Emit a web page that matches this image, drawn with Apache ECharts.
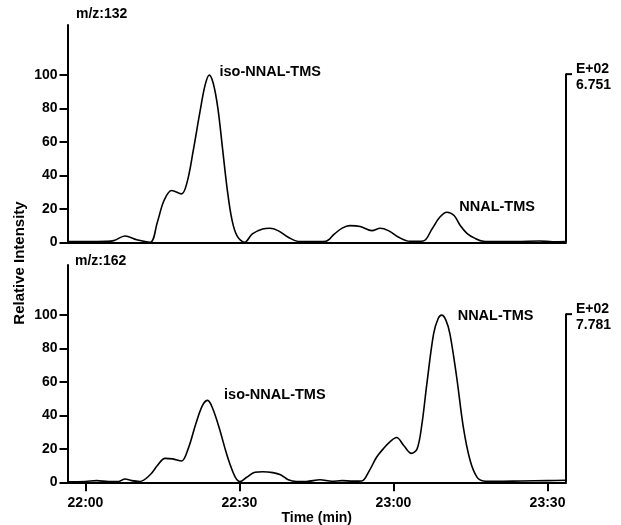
<!DOCTYPE html>
<html>
<head>
<meta charset="utf-8">
<script src="https://cdn.jsdelivr.net/npm/echarts@6/dist/echarts.min.js"></script>
<style>
  html, body { margin: 0; padding: 0; background: #fff; }
  #chart { width: 621px; height: 525px; }
</style>
</head>
<body>
<div id="chart"></div>
<script>
// Retention time in minutes after 22:00, relative intensity in %
const times132 = [-3.5, 0, 4, 5.5, 7.7, 10, 12.6, 14, 15.3, 16.8, 18.7, 19.8, 21, 22.3, 23.3, 24.1, 24.9, 25.8, 26.7, 27.6, 28.5, 29.5, 31.0, 32.5, 34.5, 35.9, 37.5, 39.5, 41.8, 44, 46.8, 48.5, 50, 51.5, 53.5, 55.8, 57.4, 59, 61, 63.2, 65.8, 67.5, 69, 70.4, 71.8, 73, 74.3, 75.8, 77.5, 80, 84, 88.5, 91, 93.6];
const intensity132 = [0.5, 0.5, 0.6, 1, 3.8, 1.5, 0, 12, 25, 31, 29, 36, 55, 78, 94, 100, 95, 80, 56, 32, 14, 4, 0, 5, 8, 8.4, 7, 3, 0.4, 0.4, 0.6, 5, 8.5, 10, 9.5, 7, 8.4, 7, 3, 0.6, 0.8, 8, 15, 18, 16, 10, 5.4, 2.5, 0.6, 0.4, 0.4, 0.8, 0.3, 0.4];

const times162 = [-3.5, 0, 2.2, 4.5, 6.5, 7.7, 9, 10.6, 12.6, 14, 15.5, 17, 18.7, 20, 21.5, 22.8, 23.8, 24.8, 26.2, 27.2, 28.1, 29.2, 30.1, 31.4, 33, 34.5, 36.5, 38, 39.5, 41.1, 43, 45.7, 48, 50, 52, 53.8, 55.3, 56.7, 58, 59.4, 60.6, 62, 63.5, 64.6, 65.5, 66.5, 67.8, 68.7, 69.4, 70.2, 71, 72.3, 73.6, 74.9, 76.2, 77.5, 80, 85, 90, 93.6];
const intensity162 = [0.3, 0.5, 1, 0.4, 0.5, 2, 1, 0.5, 4.5, 10, 14.3, 14, 12.7, 20, 35, 46, 49, 44, 31, 20, 11.3, 3, 0.5, 3, 6, 6.3, 5.8, 4.5, 1.5, 0.5, 0.5, 1.5, 0.6, 1, 0.7, 0.8, 7, 15, 20, 24.5, 26.8, 22, 17.3, 20, 34, 59, 88.7, 98, 100, 97, 88.7, 63, 33, 13.3, 3.4, 0.8, 0.6, 0.8, 1, 1.2];

const timeTicks = [0, 30, 60, 90];
const intensityTicks = [0, 20, 40, 60, 80, 100];
const timeRange = [-3.5, 93.6];
const intensityMax = 130;

const ionTitles = ['m/z:132', 'm/z:162'];
const scaleNotes = ['E+02\n6.751', 'E+02\n7.781'];
// peak labels: [time, intensity, text]
const peakLabels132 = [[26.1, 101.6, 'iso-NNAL-TMS'], [72.8, 21.2, 'NNAL-TMS']];
const peakLabels162 = [[27.0, 52.5, 'iso-NNAL-TMS'], [72.5, 99.5, 'NNAL-TMS']];

const FONT = '"Liberation Sans", Arial, Helvetica, sans-serif';

function fmtTime(m) {
  const total = 22 * 60 + m;
  const h = Math.floor(total / 60);
  const mm = Math.round(total - h * 60);
  return h + ':' + String(mm).padStart(2, '0');
}

function pairs(ts, vs) {
  return ts.map((t, i) => [t, vs[i]]);
}

const gridLeft = 67.5, gridRight = 55, gridHeight = 217.3;

function makeX(idx, bottom) {
  return {
    type: 'value', gridIndex: idx, min: timeRange[0], max: timeRange[1],
    axisLine: { show: true, onZero: false, lineStyle: { color: '#000', width: 2 } },
    axisTick: bottom ? { show: true, customValues: timeTicks, length: 9, lineStyle: { color: '#000', width: 2 } } : { show: false },
    axisLabel: bottom ? {
      show: true, customValues: timeTicks, formatter: fmtTime, margin: 14,
      color: '#000', fontFamily: FONT, fontWeight: 'bold', fontSize: 14
    } : { show: false },
    splitLine: { show: false },
    name: bottom ? 'Time (min)' : '',
    nameLocation: 'middle', nameGap: 27,
    nameTextStyle: { color: '#000', fontFamily: FONT, fontWeight: 'bold', fontSize: 14 }
  };
}

function makeY(idx) {
  return {
    type: 'value', gridIndex: idx, min: 0, max: intensityMax,
    axisLine: { show: true, onZero: false, lineStyle: { color: '#000', width: 2 } },
    axisTick: { show: true, customValues: intensityTicks, length: 8, lineStyle: { color: '#000', width: 2 } },
    axisLabel: {
      show: true, customValues: intensityTicks, margin: 10,
      color: '#000', fontFamily: FONT, fontWeight: 'bold', fontSize: 14
    },
    splitLine: { show: false }
  };
}

const textStyle = { color: '#000', fontFamily: FONT, fontWeight: 'bold' };

function makeSeries(idx, ts, vs, labels, note) {
  const xEnd = timeRange[1];
  return {
    type: 'line', xAxisIndex: idx, yAxisIndex: idx,
    data: pairs(ts, vs),
    smooth: 0.35, showSymbol: false, clip: false, silent: true,
    lineStyle: { color: '#000', width: 1.6 },
    // full-scale bracket on the right edge
    markLine: {
      silent: true, symbol: ['none', 'none'], animation: false,
      lineStyle: { color: '#000', width: 2, type: 'solid' },
      label: { show: false },
      emphasis: { disabled: true },
      data: [[{ coord: [xEnd, 0] }, { coord: [xEnd, 101] }]]
    },
    markPoint: {
      silent: true, animation: false,
      data: labels.map(l => ({
        coord: [l[0], l[1]], name: l[2], symbol: 'circle', symbolSize: 0,
        label: Object.assign({ show: true, position: 'right', distance: 0, formatter: '{b}', fontSize: 14.5 }, textStyle)
      })).concat([{
        // short flag at the top of the bracket with the full-scale note
        coord: [xEnd, 100], name: note, symbol: 'rect', symbolSize: [6, 2], symbolOffset: [3, -1],
        itemStyle: { color: '#000' },
        label: Object.assign({ show: true, position: 'right', distance: 4, offset: [0, 3], formatter: '{b}', fontSize: 14, lineHeight: 16, align: 'left' }, textStyle)
      }])
    }
  };
}

const chart = echarts.init(document.getElementById('chart'), null, { renderer: 'canvas' });
chart.setOption({
  animation: false,
  backgroundColor: '#fff',
  grid: [
    { left: gridLeft, right: gridRight, top: 25, height: gridHeight, containLabel: false, outerBoundsMode: 'none' },
    { left: gridLeft, right: gridRight, top: 265, height: gridHeight, containLabel: false, outerBoundsMode: 'none' }
  ],
  xAxis: [makeX(0, false), makeX(1, true)],
  yAxis: [makeY(0), makeY(1)],
  series: [
    makeSeries(0, times132, intensity132, peakLabels132, scaleNotes[0]),
    makeSeries(1, times162, intensity162, peakLabels162, scaleNotes[1])
  ],
  graphic: [
    { type: 'text', left: 76, top: 7, style: { text: ionTitles[0], fill: '#000', font: 'bold 14px ' + FONT } },
    { type: 'text', left: 75, top: 254, style: { text: ionTitles[1], fill: '#000', font: 'bold 14px ' + FONT } },
    {
      type: 'text', x: 20, y: 263, rotation: Math.PI / 2,
      style: { text: 'Relative Intensity', fill: '#000', font: 'bold 15px ' + FONT, align: 'center', verticalAlign: 'middle' }
    }
  ]
});
</script>
</body>
</html>
